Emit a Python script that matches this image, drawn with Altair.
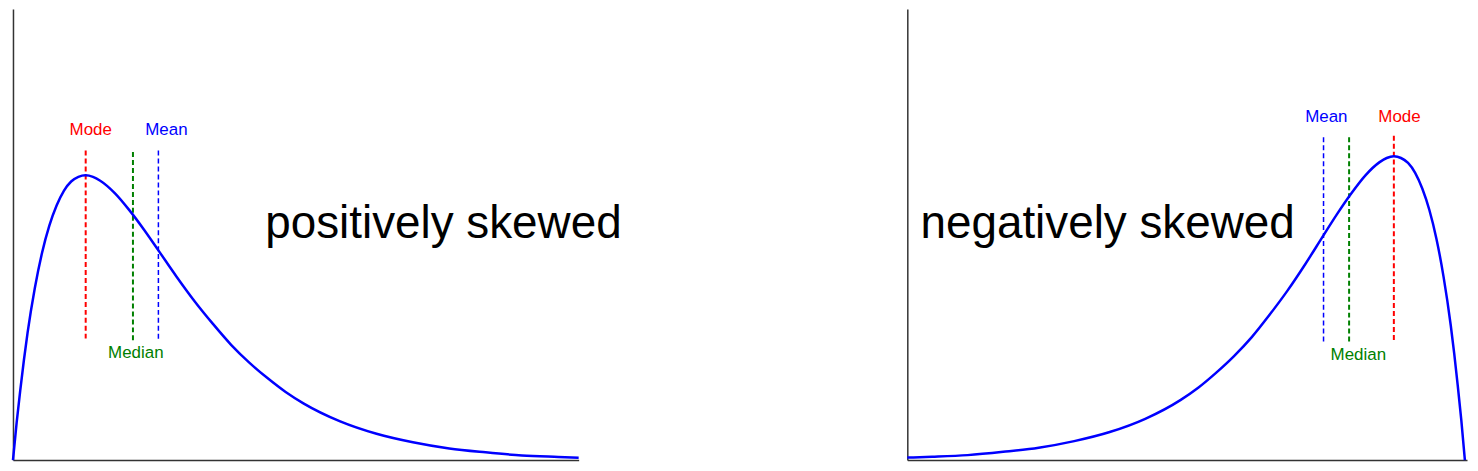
import altair as alt
import pandas as pd

# ---- positively skewed curve (left panel) ----
pos_x = [0, 0.05, 0.1, 0.15, 0.2, 0.3, 0.4, 0.5, 0.6, 0.7, 0.8, 0.9, 1.0, 1.1, 1.2, 1.4,
         1.6, 1.8, 2.0, 2.25, 2.5, 2.75, 3.0, 3.25, 3.5, 3.75, 4.0, 4.5, 5.0, 5.5, 6.0,
         6.5, 7.0, 7.5, 7.78]
pos_y = [0, 0.048, 0.090, 0.129, 0.164, 0.222, 0.268, 0.303, 0.329, 0.348, 0.360, 0.366,
         0.368, 0.366, 0.361, 0.345, 0.323, 0.298, 0.271, 0.237, 0.205, 0.176, 0.149,
         0.126, 0.106, 0.088, 0.073, 0.050, 0.034, 0.023, 0.015, 0.010, 0.006, 0.004, 0.003]

# ---- negatively skewed curve (right panel) ----
neg_x = [7.85, 7.80, 7.75, 7.70, 7.65, 7.55, 7.45, 7.35, 7.25, 7.15, 7.05, 6.95, 6.85,
         6.75, 6.65, 6.45, 6.25, 6.05, 5.85, 5.60, 5.35, 5.10, 4.85, 4.60, 4.35, 4.10,
         3.85, 3.35, 2.85, 2.35, 1.85, 1.35, 0.85, 0.35, 0.0]
neg_y = [0, 0.048, 0.090, 0.129, 0.164, 0.222, 0.268, 0.303, 0.329, 0.348, 0.360, 0.366,
         0.368, 0.366, 0.361, 0.345, 0.323, 0.298, 0.271, 0.237, 0.205, 0.176, 0.149,
         0.126, 0.106, 0.088, 0.073, 0.050, 0.034, 0.023, 0.015, 0.010, 0.006, 0.004, 0.003]

# ---- markers (left) ----
pos_names = ["Mode", "Median", "Mean"]
pos_line_x = [1.0, 1.65, 2.0]
pos_line_top = [0.400, 0.398, 0.400]
pos_line_bot = [0.157, 0.152, 0.154]
pos_label_x = [1.07, 1.69, 2.11]
pos_label_y = [0.426, 0.139, 0.426]

# ---- markers (right) ----
neg_names = ["Mean", "Median", "Mode"]
neg_line_x = [5.86, 6.22, 6.85]
neg_line_top = [0.391, 0.391, 0.393]
neg_line_bot = [0.1435, 0.1435, 0.1435]
neg_label_x = [5.90, 6.35, 6.93]
neg_label_y = [0.416, 0.127, 0.416]

marker_colors = {"Mode": "#FF0000", "Median": "#008000", "Mean": "#0000FF"}
marker_widths = {"Mode": 2.0, "Median": 2.0, "Mean": 1.5}

titles = ["positively skewed", "negatively skewed"]
title_x = [5.92, 2.82]
title_y = [0.305, 0.286]

x_max = [7.78, 7.88]
y_max = [0.583, 0.5466]
widths = [568, 562]
H = 453


def panel(i, cx, cy, names, lx, ltop, lbot, tx, ty):
    xs = alt.Scale(domain=[0, x_max[i]], nice=False, zero=False)
    ys = alt.Scale(domain=[0, y_max[i]], nice=False, zero=True)
    xax = alt.Axis(ticks=False, labels=False, grid=False, domain=True,
                   minExtent=0, labelPadding=0, tickSize=0)
    yax = alt.Axis(ticks=False, labels=False, grid=False, domain=True,
                   minExtent=0, labelPadding=0, tickSize=0)

    curve_df = pd.DataFrame({"x": cx, "y": cy})
    curve = alt.Chart(curve_df).mark_line(
        color="#0000FF", strokeWidth=2.5, interpolate="monotone"
    ).encode(
        x=alt.X("x:Q", scale=xs, axis=xax, title=None),
        y=alt.Y("y:Q", scale=ys, axis=yax, title=None),
    )

    lines_df = pd.DataFrame({
        "name": names, "x": lx, "top": ltop, "bot": lbot,
        "color": [marker_colors[n] for n in names],
        "w": [marker_widths[n] for n in names],
    })
    rules = alt.Chart(lines_df).mark_rule(strokeDash=[5, 3]).encode(
        x=alt.X("x:Q", scale=xs),
        y=alt.Y("top:Q", scale=ys),
        y2="bot:Q",
        color=alt.Color("color:N", scale=None),
        size=alt.Size("w:Q", scale=None),
    )

    labels_df = pd.DataFrame({
        "name": names, "x": tx, "y": ty,
        "color": [marker_colors[n] for n in names],
    })
    labels = alt.Chart(labels_df).mark_text(
        fontSize=17, font="Liberation Sans", align="center", baseline="middle"
    ).encode(
        x=alt.X("x:Q", scale=xs),
        y=alt.Y("y:Q", scale=ys),
        text="name:N",
        color=alt.Color("color:N", scale=None),
    )

    big_df = pd.DataFrame({"t": [titles[i]], "x": [title_x[i]], "y": [title_y[i]]})
    big = alt.Chart(big_df).mark_text(
        fontSize=46, font="Liberation Sans", align="center", baseline="middle", color="black"
    ).encode(
        x=alt.X("x:Q", scale=xs),
        y=alt.Y("y:Q", scale=ys),
        text="t:N",
    )

    return alt.layer(rules, curve, labels, big).properties(width=widths[i], height=H)


left = panel(0, pos_x, pos_y, pos_names, pos_line_x, pos_line_top, pos_line_bot,
             pos_label_x, pos_label_y)
right = panel(1, neg_x, neg_y, neg_names, neg_line_x, neg_line_top, neg_line_bot,
              neg_label_x, neg_label_y)

chart = alt.hconcat(left, right, spacing=330, bounds="flush").properties(
    padding=0
).configure_view(strokeWidth=0).configure_axis(
    domainColor="#333333", domainWidth=1.5
)

chart.save("out.html", embed_options={"renderer": "svg", "actions": False})
